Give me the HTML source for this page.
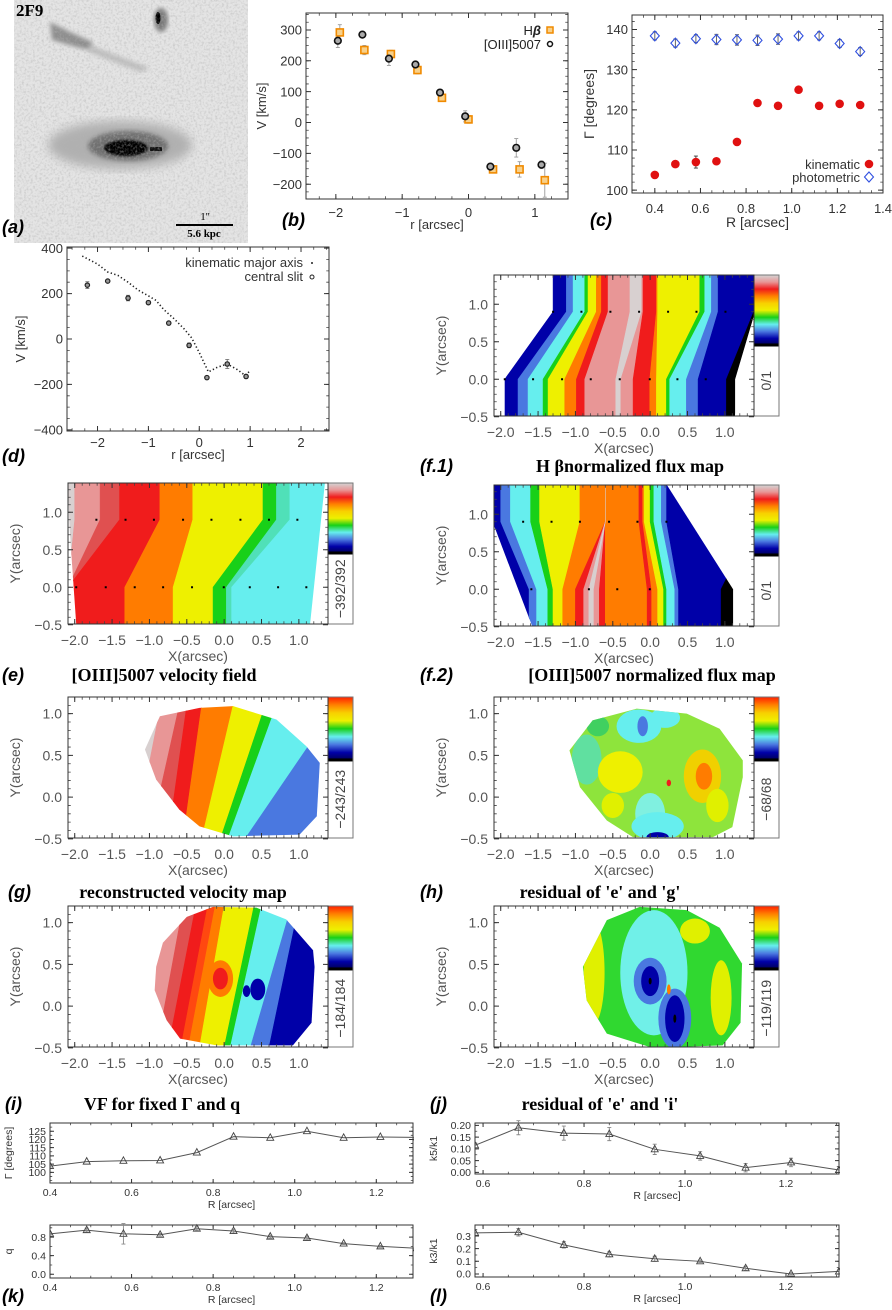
<!DOCTYPE html>
<html><head><meta charset="utf-8"><style>
html,body{margin:0;padding:0;background:#fff;}
svg{display:block;font-family:"Liberation Sans",sans-serif;}
.ttl{font-family:"Liberation Serif",serif;font-weight:bold;font-size:18px;fill:#000;}
.pl{font-family:"Liberation Sans",sans-serif;font-weight:bold;font-style:italic;font-size:18px;fill:#000;}
</style></head><body>
<svg id="fig" width="892" height="1310" viewBox="0 0 892 1310" xmlns="http://www.w3.org/2000/svg">
<defs>
<filter id="noise" x="0" y="0" width="1" height="1"><feTurbulence type="fractalNoise" baseFrequency="0.45" numOctaves="2" seed="4"/><feColorMatrix type="matrix" values="0 0 0 0 0.45  0 0 0 0 0.45  0 0 0 0 0.45  2.2 0 0 0 -0.95"/></filter>
<filter id="blur4"><feGaussianBlur stdDeviation="5"/></filter>
<filter id="blur2"><feGaussianBlur stdDeviation="2"/></filter>
<filter id="blur1"><feGaussianBlur stdDeviation="1"/></filter>
</defs>
<g>
<rect x="14" y="0" width="234" height="243" fill="#e4e4e4"/>
<ellipse cx="120" cy="145" rx="72" ry="24" fill="#b0b0b0" filter="url(#blur4)"/>
<ellipse cx="128" cy="146" rx="40" ry="15" fill="#707070" filter="url(#blur2)"/>
<ellipse cx="126" cy="148" rx="22" ry="8" fill="#000" filter="url(#blur1)"/>
<rect x="150" y="147" width="12" height="4" fill="#111"/>
<path d="M50 22 L70 32 L92 42 L92 50 L80 48 L52 40 Z" fill="#8e8e8e" filter="url(#blur2)"/>
<path d="M90 45 L150 68 L140 72 L88 52 Z" fill="#c0c0c0" filter="url(#blur2)"/>
<ellipse cx="161" cy="20" rx="7" ry="12" fill="#7a7a7a" filter="url(#blur2)"/>
<ellipse cx="158" cy="18" rx="2.5" ry="6" fill="#000"/>
<rect x="14" y="0" width="234" height="243" filter="url(#noise)" opacity="0.55"/>
<text x="16" y="16" style="font-family:'Liberation Serif',serif;font-weight:bold;font-size:17px">2F9</text>
<line x1="176" y1="225" x2="233" y2="225" stroke="#000" stroke-width="2"/>
<text x="205" y="220" text-anchor="middle" style="font-family:'Liberation Serif',serif;font-size:11px">1''</text>
<text x="204" y="237" text-anchor="middle" style="font-family:'Liberation Serif',serif;font-weight:bold;font-size:11px">5.6 kpc</text>
</g>
<text class="pl" x="2" y="233">(a)</text>
<text class="pl" x="282" y="226">(b)</text>
<text class="pl" x="590" y="226">(c)</text>
<text class="pl" x="2" y="462">(d)</text>
<text class="pl" x="420" y="472">(f.1)</text>
<text class="ttl" x="630" y="472" text-anchor="middle">H βnormalized flux map</text>
<text class="pl" x="2" y="681">(e)</text>
<text class="ttl" x="164" y="681" text-anchor="middle">[OIII]5007 velocity field</text>
<text class="pl" x="420" y="681">(f.2)</text>
<text class="ttl" x="652" y="681" text-anchor="middle">[OIII]5007 normalized flux map</text>
<text class="pl" x="8" y="898">(g)</text>
<text class="ttl" x="183" y="898" text-anchor="middle">reconstructed velocity map</text>
<text class="pl" x="420" y="898">(h)</text>
<text class="ttl" x="600" y="898" text-anchor="middle">residual of 'e' and 'g'</text>
<text class="pl" x="5" y="1110">(i)</text>
<text class="ttl" x="162" y="1110" text-anchor="middle">VF for fixed Γ and q</text>
<text class="pl" x="430" y="1110">(j)</text>
<text class="ttl" x="600" y="1110" text-anchor="middle">residual of 'e' and 'i'</text>
<text class="pl" x="2" y="1302">(k)</text>
<text class="pl" x="430" y="1302">(l)</text>
</svg>
<script>
// ---------- data ----------
const bR=[-1.97,-1.6,-1.2,-0.8,-0.43,-0.05,0.33,0.72,1.1];
const bOiii=[265,285,207,188,97,20,-143,-82,-137];
const bOiiiErr=[22,8,22,10,10,18,10,30,12];
const bHbR=[-1.94,-1.57,-1.17,-0.77,-0.4,0,0.37,0.77,1.15];
const bHb=[292,235,222,170,80,10,-152,-152,-187];
const bHbErr=[25,15,12,12,8,12,5,25,55];
const bXTicks=[-2,-1,0,1];
const bYTicks=[-200,-100,0,100,200,300];
const cR=[0.40,0.49,0.58,0.67,0.76,0.85,0.94,1.03,1.12,1.21,1.30];
const cKin=[103.8,106.5,107,107.2,112,121.7,121,125,121,121.5,121.2];
const cKinErr=[0.5,0.7,1.5,0.7,0.5,0.5,0.5,0.7,0.5,0.7,0.7];
const cPhot=[138.4,136.6,137.7,137.5,137.4,137.3,137.6,138.4,138.4,136.5,134.5];
const cPhotErr=[1,1,1,1.3,1.3,1.3,1.3,1,1,1,1];
const cXTicks=[0.4,0.6,0.8,1.0,1.2,1.4];
const cYTicks=[100,110,120,130,140];
const dLineR=[-2.3,-2.0,-1.8,-1.6,-1.4,-1.2,-1.0,-0.85,-0.7,-0.5,-0.3,-0.15,0.0,0.18,0.35,0.55,0.75,0.9,1.0];
const dLineV=[365,330,295,280,250,215,190,170,130,90,45,5,-60,-145,-125,-110,-135,-160,-140];
const dSlitR=[-2.2,-1.8,-1.4,-1.0,-0.6,-0.2,0.15,0.55,0.92];
const dSlitV=[237,255,180,160,70,-28,-170,-110,-165];
const dSlitErr=[15,5,12,8,5,10,5,20,8];
const dXTicks=[-2,-1,0,1,2];
const dYTicks=[-400,-200,0,200,400];
const iGamma=[103.8,106.5,107,107.2,112,121.7,121,125,121,121.5,121.2];
const iYTicks=[100,105,110,115,120,125];
const kQ=[0.87,0.95,0.87,0.85,0.98,0.93,0.81,0.78,0.66,0.6,0.56];
const kQErr=[0.02,0.04,0.22,0.03,0.04,0.04,0.03,0.04,0.02,0.02,0.04];
const kYTicks=[0.0,0.4,0.8];
const ikXTicks=[0.4,0.6,0.8,1.0,1.2];
const jR=[0.584,0.67,0.76,0.85,0.94,1.03,1.12,1.21,1.305];
const jK5=[0.115,0.19,0.167,0.163,0.098,0.07,0.02,0.042,0.01];
const jK5Err=[0,0.03,0.03,0.028,0.022,0.018,0.018,0.018,0];
const jYTicks=[0.00,0.05,0.10,0.15,0.20];
const lK3=[0.325,0.33,0.23,0.155,0.12,0.1,0.045,0.0,0.02];
const lK3Err=[0,0.03,0.025,0.02,0.02,0.01,0.015,0.01,0];
const lYTicks=[0.0,0.1,0.2,0.3];
const jlXTicks=[0.6,0.8,1.0,1.2];
const mapXTicks=[-2.0,-1.5,-1.0,-0.5,0.0,0.5,1.0];
const mapYTicks=[-0.5,0.0,0.5,1.0];
// map bands
const f1Bot=[-1.946,-1.768,-1.634,-1.433,-1.366,-1.143,-0.987,-0.875,-0.228,-0.005,0.084,0.218,0.262,0.485,0.642,1.021,1.133];
const f1Top=[-1.299,-1.121,-1.031,-0.875,-0.831,-0.72,-0.652,-0.563,-0.095,0.084,0.10,0.664,0.731,0.82,0.91,1.387,1.40];
const f1Col=['navy','royal','cyan','green','yellow','orange','red','pink','red','orange','yellow','green','cyan','royal','navy','black'];
const f2Bot=[-2.2,-1.62,-1.52,-1.37,-1.3,-1.17,-1.0,-0.89,-0.68,-0.6,-0.04,0.02,0.1,0.18,0.22,0.33,0.38,0.95,1.2];
const f2Top=[-2.2,-2.0,-1.87,-1.6,-1.48,-0.94,-0.6,-0.6,-0.6,-0.6,-0.15,-0.1,-0.08,0.0,0.05,0.15,0.22,1.4,1.4];
const f2Col=['navy','royal','cyan','green','yellow','orange','red','pink','red','orange','red','orange','yellow','green','cyan','royal','navy','black'];
const eBot=[-2.09,-2.09,-2.09,-2.09,-1.33,-0.683,-0.148,0.03,0.1,1.39];
const eTop=[-2.09,-2.0,-1.66,-1.4,-0.86,-0.42,0.52,0.70,0.88,1.39];
const eCol=['gray','pink','coral','red','orange','yellow','green','teal','cyan'];
const gBot=[-1.2,-1.2,-1.0,-0.75,-0.55,-0.3,-0.05,0.05,0.28,1.4];
const gTop=[-1.2,-0.85,-0.6,-0.5,-0.3,0.12,0.55,0.7,1.5,1.6];
const gCol=['gray','pink','coral','red','orange','yellow','green','cyan','royal'];
const iBot=[-1.1,-1.0,-0.9,-0.75,-0.58,-0.48,-0.33,0.0,0.08,0.35,0.6,1.4];
const iTop=[-1.1,-1.0,-0.55,-0.38,-0.22,-0.12,0.0,0.4,0.5,0.9,1.0,1.4];
const iCol=['gray','pink','coral','red','orangered','orange','yellow','green','cyan','royal','navy'];
const f1DotX=[-1.946,-1.567,-1.179,-0.795,-0.407,-0.005,0.365,0.744,-1.299,-0.92,-0.532,-0.148,0.24,0.62,1.008];
const f1DotY=[0,0,0,0,0,0,0,0,0.9,0.9,0.9,0.9,0.9,0.9,0.9];
const eDotX=[-1.98,-1.585,-1.197,-0.817,-0.43,-0.005,0.343,0.722,1.1,-1.71,-1.32,-0.94,-0.55,-0.17,0.218,0.60,0.98];
const eDotY=[0,0,0,0,0,0,0,0,0,0.9,0.9,0.9,0.9,0.9,0.9,0.9,0.9];
const f2DotX=[-1.59,-0.82,-0.44,-0.005,-1.70,-1.32,-0.94,-0.55,-0.17,0.218];
const f2DotY=[0,0,0,0,0.9,0.9,0.9,0.9,0.9,0.9];
const hBlobX=[-0.85,-0.4,-0.15,-0.1,0.2,0.0,0.1,-0.5,0.7,0.72,0.1,0.25,0.9,-0.7];
const hBlobY=[0.45,0.3,0.85,0.85,0.95,-0.2,-0.35,-0.1,0.25,0.25,-0.48,0.17,-0.1,0.85];
const hBlobRX=[0.2,0.3,0.3,0.07,0.2,0.2,0.35,0.15,0.25,0.11,0.15,0.03,0.15,0.15];
const hBlobRY=[0.3,0.25,0.2,0.12,0.12,0.25,0.17,0.15,0.32,0.16,0.06,0.04,0.2,0.12];
const hBlobC=['#60e0a0','yellow','cyan','royal','cyan','#80f0e0','cyan','#e0f000','#f0d000','orange','navy','red','#e0f000','#40d060'];
const jBlobX=[-0.75,0.95,0.6,0.05,0.0,0.33,0.0,0.33,0.0,0.33,0.25];
const jBlobY=[0.4,0.1,0.9,0.4,0.3,-0.15,0.3,-0.15,0.3,-0.15,0.2];
const jBlobRX=[0.14,0.14,0.2,0.45,0.22,0.22,0.12,0.13,0.02,0.02,0.025];
const jBlobRY=[0.6,0.45,0.15,0.75,0.28,0.36,0.18,0.28,0.04,0.05,0.06];
const jBlobC=['#e0f000','#e0f000','#e0f000','#70f0e8','royal','royal','navy','navy','black','black','orange'];
const eShape=[[-2.09,1.4],[1.35,1.4],[1.15,-0.49],[-1.98,-0.49],[-2.07,0.8]];
const f1Shape=[[-1.946,-0.49],[1.133,-0.49],[1.387,0.7],[1.387,1.4],[-1.299,1.4],[-1.946,0]];
const f2Shape=[[-2.09,1.4],[0.218,1.4],[1.11,0.0],[1.11,-0.49],[-1.58,-0.49],[-2.09,0.85]];
const gShape=[[-1.06,0.57],[-0.86,0.97],[-0.33,1.07],[0.12,1.09],[0.70,0.93],[1.1,0.61],[1.28,0.41],[1.24,-0.23],[1.01,-0.45],[0.12,-0.47],[-0.33,-0.35],[-0.6,-0.15],[-0.91,0.21]];
const hShape=[[-1.08,0.56],[-0.77,0.92],[-0.18,1.06],[0.49,1.0],[0.93,0.82],[1.24,0.44],[1.24,0.24],[1.1,-0.36],[0.84,-0.48],[-0.23,-0.48],[-0.58,-0.28],[-0.94,0.12]];
const iShape=[[-0.91,0.47],[-0.82,0.76],[-0.5,1.07],[-0.15,1.19],[0.43,1.18],[0.83,1.04],[1.19,0.67],[1.21,0.47],[1.17,-0.2],[0.92,-0.47],[-0.1,-0.47],[-0.59,-0.39],[-0.77,-0.17],[-0.93,0.19]];
const jShape=[[-0.9,0.47],[-0.58,1.03],[-0.14,1.19],[0.49,1.15],[0.93,0.94],[1.23,0.51],[1.21,-0.2],[0.97,-0.47],[0.03,-0.5],[-0.58,-0.33],[-0.85,0.07]];
const iBlobX=[-0.05,-0.05,0.45,0.3];
const iBlobY=[0.33,0.33,0.2,0.18];
const iBlobRX=[0.17,0.1,0.1,0.05];
const iBlobRY=[0.22,0.13,0.13,0.07];
const iBlobC=['orange','red','navy','navy'];

// ---------- helpers ----------
const PAL={navy:'#0000a8',royal:'#4a78e0',cyan:'#66eeee',teal:'#50e0b8',green:'#18d018',yellow:'#eef000',orange:'#ff7c00',orangered:'#ff4810',red:'#f01c1c',coral:'#e05050',pink:'#e89696',gray:'#d8d0d0',black:'#000000'};
const col=c=>PAL[c]||c;
const NS='http://www.w3.org/2000/svg';
const svg=document.getElementById('fig');
function mk(tag,attrs,parent){const e=document.createElementNS(NS,tag);for(const k in attrs)e.setAttribute(k,attrs[k]);(parent||svg).appendChild(e);return e;}
function lin(d0,d1,p0,p1){return v=>p0+(v-d0)/(d1-d0)*(p1-p0);}
function fmt(v,d){return (v<0?'\u2212':'')+Math.abs(v).toFixed(d);}

function frame(name,box,xr,yr,xt,xd,yt,yd,o){
  const g=mk('g',{});
  
  
  const sx=lin(xr[0],xr[1],box.x,box.x+box.w), sy=lin(yr[0],yr[1],box.y+box.h,box.y);
  const fs=o.fs, tc=o.tc||'#333', tl=o.tl||5;
  const ax=mk('g',{},g);
  
  
  const xm=(xt[1]-xt[0])/(o.xminor||5), ym=(yt[1]-yt[0])/(o.yminor||5);
  for(let v=xt[0]-10*xm; v<=xr[1]+1e-9; v+=xm){ if(v<xr[0]-1e-9) continue; const X=sx(v);
    const t=mk('path',{d:`M${X} ${box.y+box.h}v${-tl*0.55}M${X} ${box.y}v${tl*0.55}`,stroke:'#444','stroke-width':0.8},ax);
    
    }
  for(let v=yt[0]-10*ym; v<=yr[1]+1e-9; v+=ym){ if(v<yr[0]-1e-9) continue; const Y=sy(v);
    const t=mk('path',{d:`M${box.x} ${Y}h${tl*0.55}M${box.x+box.w} ${Y}h${-tl*0.55}`,stroke:'#444','stroke-width':0.8},ax);
    
    }
  xt.forEach(v=>{const X=sx(v);
    const t=mk('path',{d:`M${X} ${box.y+box.h}v${-tl}M${X} ${box.y}v${tl}`,stroke:'#333','stroke-width':1},ax);
    
    
    const l=mk('text',{x:X,y:box.y+box.h+(o.xlo||fs+4),'text-anchor':'middle','font-size':fs,fill:tc},ax);
    l.textContent=fmt(v,xd);
    
    });
  yt.forEach(v=>{const Y=sy(v);
    const t=mk('path',{d:`M${box.x} ${Y}h${tl}M${box.x+box.w} ${Y}h${-tl}`,stroke:'#333','stroke-width':1},ax);
    
    
    const l=mk('text',{x:box.x-(o.ylo||4),y:Y+fs*0.36,'text-anchor':'end','font-size':fs,fill:tc},ax);
    l.textContent=fmt(v,yd);
    
    });
  const r=mk('rect',{x:box.x,y:box.y,width:box.w,height:box.h,fill:'none',stroke:'#333','stroke-width':1},ax);
  
  
  if(o.xlab){const t=mk('text',{x:box.x+box.w/2,y:o.xlaby,'text-anchor':'middle','font-size':o.lfs||fs,fill:tc},g);t.textContent=o.xlab;
    
    }
  if(o.ylab){const cy=box.y+box.h/2;const t=mk('text',{x:o.ylabx,y:cy,'text-anchor':'middle','font-size':o.lfs||fs,fill:tc,transform:`rotate(-90 ${o.ylabx} ${cy})`},g);t.textContent=o.ylab;
    
    }
  return {g,sx,sy};
}
function errbar(g,X,Y1,Y2,c){const e=mk('path',{d:`M${X} ${Y1}V${Y2}M${X-2} ${Y1}h4M${X-2} ${Y2}h4`,stroke:c||'#999','stroke-width':0.9},g);
  
  }

// ---------- panel b ----------
(function(){
  const F=frame('panel-b',{x:306,y:13,w:262,h:186},[-2.45,1.5],[-248,355],bXTicks,0,bYTicks,0,{fs:13,xlo:18,xlab:'r [arcsec]',xlaby:229,ylab:'V [km/s]',ylabx:266,xminor:4,yminor:4});
  bHbR.forEach((r,i)=>{errbar(F.g,F.sx(r),F.sy(bHb[i]-bHbErr[i]),F.sy(bHb[i]+bHbErr[i]));});
  bR.forEach((r,i)=>{errbar(F.g,F.sx(r),F.sy(bOiii[i]-bOiiiErr[i]),F.sy(bOiii[i]+bOiiiErr[i]));});
  bHbR.forEach((r,i)=>{const m=mk('rect',{x:F.sx(r)-3.5,y:F.sy(bHb[i])-3.5,width:7,height:7,fill:'#f7d08a',stroke:'#f08a00','stroke-width':1.6},F.g);
    
    });
  bR.forEach((r,i)=>{const m=mk('circle',{cx:F.sx(r),cy:F.sy(bOiii[i]),r:3.3,fill:'#aaa',stroke:'#111','stroke-width':1.6},F.g);
    
    });
  const lg=mk('g',{},F.g);
  
  
  const t1=mk('text',{x:541,y:35,'text-anchor':'end','font-size':13,fill:'#222'},lg);t1.innerHTML='H<tspan font-weight="bold" font-style="italic">β</tspan>';
  
  
  mk('rect',{x:547,y:27,width:6,height:6,fill:'#f7d08a',stroke:'#f08a00','stroke-width':1.5},lg);
  const t2=mk('text',{x:541,y:49,'text-anchor':'end','font-size':13,fill:'#222'},lg);t2.textContent='[OIII]5007';
  
  
  mk('circle',{cx:550,cy:44,r:2.5,fill:'none',stroke:'#111','stroke-width':1.5},lg);
})();

// ---------- panel c ----------
(function(){
  const F=frame('panel-c',{x:632,y:15,w:251,h:178},[0.3,1.4],[99.3,143.6],cXTicks,1,cYTicks,0,{fs:13,xlo:20,xlab:'R [arcsec]',xlaby:227,ylab:'Γ [degrees]',ylabx:594,lfs:14,xminor:4,yminor:5});
  cR.forEach((r,i)=>{errbar(F.g,F.sx(r),F.sy(cPhot[i]-cPhotErr[i]),F.sy(cPhot[i]+cPhotErr[i]),'#555');
    errbar(F.g,F.sx(r),F.sy(cKin[i]-cKinErr[i]),F.sy(cKin[i]+cKinErr[i]),'#333');});
  cR.forEach((r,i)=>{const X=F.sx(r),Y=F.sy(cPhot[i]);
    const m=mk('path',{d:`M${X} ${Y-5}L${X+4.5} ${Y}L${X} ${Y+5}L${X-4.5} ${Y}Z`,fill:'none',stroke:'#3050e0','stroke-width':1.1},F.g);
    
    
    const k=mk('circle',{cx:X,cy:F.sy(cKin[i]),r:4.3,fill:'#e01010'},F.g);
    
    });
  const lg=mk('g',{},F.g);
  
  
  const t1=mk('text',{x:860,y:169,'text-anchor':'end','font-size':13,fill:'#333'},lg);t1.textContent='kinematic';
  
  
  mk('circle',{cx:869,cy:164,r:4.3,fill:'#e01010'},lg);
  const t2=mk('text',{x:860,y:182,'text-anchor':'end','font-size':13,fill:'#333'},lg);t2.textContent='photometric';
  
  
  mk('path',{d:'M869 172l4.5 5l-4.5 5l-4.5 -5z',fill:'none',stroke:'#3050e0','stroke-width':1.1},lg);
})();

// ---------- panel d ----------
(function(){
  const F=frame('panel-d',{x:67,y:247,w:262,h:184},[-2.6,2.55],[-405,405],dXTicks,0,dYTicks,0,{fs:13,xlo:16,xlab:'r [arcsec]',xlaby:459,ylab:'V [km/s]',ylabx:25,xminor:4,yminor:4});
  const pl=mk('polyline',{points:dLineR.map((r,i)=>F.sx(r)+','+F.sy(dLineV[i])).join(' '),fill:'none',stroke:'#222','stroke-width':1.6,'stroke-dasharray':'1.3 2.4'},F.g);
  
  
  dSlitR.forEach((r,i)=>{errbar(F.g,F.sx(r),F.sy(dSlitV[i]-dSlitErr[i]),F.sy(dSlitV[i]+dSlitErr[i]),'#777');
    const m=mk('circle',{cx:F.sx(r),cy:F.sy(dSlitV[i]),r:2.2,fill:'#999',stroke:'#222','stroke-width':1.2},F.g);
    
    });
  const t1=mk('text',{x:303,y:267,'text-anchor':'end','font-size':13,fill:'#333'},F.g);t1.textContent='kinematic major axis';
  
  
  mk('circle',{cx:312,cy:263,r:1,fill:'#222'},F.g);
  const t2=mk('text',{x:303,y:281,'text-anchor':'end','font-size':13,fill:'#333'},F.g);t2.textContent='central slit';
  
  
  mk('circle',{cx:312,cy:277,r:2,fill:'none',stroke:'#222','stroke-width':1},F.g);
})();

// ---------- maps ----------
let clipN=0;
function mapPanel(name,x0,y0,yr,cbFrac,cbLabel,cbTopRed,draw){
  const box={x:x0,y:y0,w:260,h:141};
  const xr=[-2.09,1.39];
  const sx=lin(xr[0],xr[1],box.x,box.x+box.w), sy=lin(yr[0],yr[1],box.y+box.h,box.y);
  const g=mk('g',{});
  
  
  const id='clip'+(clipN++);
  const cp=mk('clipPath',{id:id},g);
  mk('rect',{x:box.x,y:box.y,width:box.w,height:box.h},cp);
  const inner=mk('g',{'clip-path':`url(#${id})`},g);
  
  
  draw(inner,sx,sy,yr);
  frame(name+'-axes',box,xr,yr,mapXTicks,1,mapYTicks.filter(v=>v<=yr[1]),1,{fs:14,tc:'#555',xlo:21,ylo:6,xlab:'X(arcsec)',xlaby:box.y+box.h+37,ylab:'Y(arcsec)',ylabx:box.x-48,tl:5,xminor:5,yminor:5});
  const cb=mk('g',{},g);
  
  
  const gid='grad'+name;
  const lg=mk('linearGradient',{id:gid,x1:0,y1:0,x2:0,y2:1},cb);
  const stops=cbTopRed?['#ff2000','#ff8000','#f8d000','#eef000','#18d018','#66eeee','#4a78e0','#0000a8','#000050']:['#d4d4d4','#e89696','#f01c1c','#ff8000','#f8d000','#eef000','#18d018','#66eeee','#4a78e0','#0000a8','#000050'];
  stops.forEach((c,i)=>mk('stop',{offset:i/(stops.length-1),'stop-color':c},lg));
  const cx=box.x+box.w, ch=box.h*cbFrac;
  mk('rect',{x:cx,y:box.y,width:25,height:ch,fill:`url(#${gid})`},cb);
  mk('rect',{x:cx,y:box.y+ch-2,width:25,height:3,fill:'#000'},cb);
  mk('rect',{x:cx,y:box.y,width:25,height:box.h,fill:'none',stroke:'#777','stroke-width':1},cb);
  const ly=box.y+ch+(box.h-ch)/2, lx=cx+17;
  const t=mk('text',{x:lx,y:ly,'text-anchor':'middle','font-size':14,fill:'#444',transform:`rotate(-90 ${lx} ${ly})`},cb);
  t.textContent=cbLabel;
  
  
  return g;
}
function shapeClip(g,sx,sy,shape){const id='clip'+(clipN++);const cp=mk('clipPath',{id:id},g);
  mk('polygon',{points:shape.map(p=>sx(p[0])+','+sy(p[1])).join(' ')},cp);
  const s=mk('g',{'clip-path':`url(#${id})`},g);return s;}
function bands(g,sx,sy,bot,top,cols,ymin,ymax,yb,yt){
  cols.forEach((c,i)=>{const pts=[[bot[i],ymin],[bot[i+1],ymin],[bot[i+1],yb],[top[i+1],yt],[top[i+1],ymax],[top[i],ymax],[top[i],yt],[bot[i],yb]];
    const p=mk('polygon',{points:pts.map(q=>sx(q[0])+','+sy(q[1])).join(' '),fill:col(c),stroke:col(c),'stroke-width':0.6},g);
    
    });
}
function blobs(g,sx,sy,X,Y,RX,RY,C){
  X.forEach((x,i)=>{const e=mk('ellipse',{cx:sx(x),cy:sy(Y[i]),rx:sx(RX[i])-sx(0),ry:sy(0)-sy(RY[i]),fill:col(C[i])},g);
    
    });
}
function dots(g,sx,sy,X,Y){X.forEach((x,i)=>{const d=mk('rect',{x:sx(x)-1,y:sy(Y[i])-1,width:2,height:2,fill:'#000'},g);
  
  });}

mapPanel('map-f1',494,275,[-0.49,1.39],0.5,'0/1',false,(g,sx,sy)=>{
  const s=shapeClip(g,sx,sy,f1Shape);
  bands(s,sx,sy,f1Bot,f1Top,f1Col,-0.6,1.5,0,0.9);
  bands(s,sx,sy,[-0.46,-0.40],[-0.27,-0.12],['gray'],-0.6,1.5,0,0.9);
  dots(g,sx,sy,f1DotX,f1DotY);
});
mapPanel('map-e',68,483,[-0.49,1.39],0.5,'\u2212392/392',false,(g,sx,sy)=>{
  const s=shapeClip(g,sx,sy,eShape);
  bands(s,sx,sy,eBot,eTop,eCol,-0.6,1.5,0,0.9);
  dots(g,sx,sy,eDotX,eDotY);
});
mapPanel('map-f2',494,485,[-0.49,1.39],0.5,'0/1',false,(g,sx,sy)=>{
  const s=shapeClip(g,sx,sy,f2Shape);
  bands(s,sx,sy,f2Bot,f2Top,f2Col,-0.6,1.5,0,0.9);
  bands(s,sx,sy,[-0.82,-0.76],[-0.6,-0.6],['gray'],-0.6,1.5,0,0.9);
  dots(g,sx,sy,f2DotX,f2DotY);
});
mapPanel('map-g',68,697,[-0.49,1.2],0.45,'\u2212243/243',true,(g,sx,sy)=>{
  const s=shapeClip(g,sx,sy,gShape);
  bands(s,sx,sy,gBot,gTop,gCol,-0.5,1.1,-0.5,1.1);
});
mapPanel('map-h',494,697,[-0.49,1.2],0.45,'\u221268/68',true,(g,sx,sy)=>{
  const s=shapeClip(g,sx,sy,hShape);
  mk('rect',{x:sx(-1.2),y:sy(1.2),width:sx(1.4)-sx(-1.2),height:sy(-0.6)-sy(1.2),fill:'#8ee43c'},s);
  blobs(s,sx,sy,hBlobX,hBlobY,hBlobRX,hBlobRY,hBlobC);
});
mapPanel('map-i',68,906,[-0.49,1.2],0.45,'\u2212184/184',true,(g,sx,sy)=>{
  const s=shapeClip(g,sx,sy,iShape);
  bands(s,sx,sy,iBot,iTop,iCol,-0.5,1.2,-0.5,1.2);
  blobs(s,sx,sy,iBlobX,iBlobY,iBlobRX,iBlobRY,iBlobC);
});
mapPanel('map-j',494,906,[-0.49,1.2],0.45,'\u2212119/119',true,(g,sx,sy)=>{
  const s=shapeClip(g,sx,sy,jShape);
  mk('rect',{x:sx(-1.2),y:sy(1.3),width:sx(1.4)-sx(-1.2),height:sy(-0.6)-sy(1.3),fill:'#30d830'},s);
  blobs(s,sx,sy,jBlobX,jBlobY,jBlobRX,jBlobRY,jBlobC);
});

// ---------- small panels ----------
function small(name,box,xr,yr,xt,yt,yd,R,V,E,ylab){
  const F=frame(name,box,xr,yr,xt,1,yt,yd,{fs:10.5,xlo:13,xlab:'R [arcsec]',xlaby:box.y+box.h+25,ylab:ylab,ylabx:box.x-38,lfs:10.5,xminor:4,yminor:2,tl:4});
  const cid='clip'+(clipN++);const cp=mk('clipPath',{id:cid},F.g);mk('rect',{x:box.x,y:box.y-6,width:box.w+1,height:box.h+6},cp);
  const dg=mk('g',{'clip-path':`url(#${cid})`},F.g);
  
  
  const pl=mk('polyline',{points:R.map((r,i)=>F.sx(r)+','+F.sy(V[i])).join(' '),fill:'none',stroke:'#555','stroke-width':1},dg);
  
  
  R.forEach((r,i)=>{const X=F.sx(r),Y=F.sy(V[i]);
    if(E&&E[i]>0) errbar(dg,X,F.sy(V[i]-E[i]),F.sy(V[i]+E[i]),'#888');
    const m=mk('path',{d:`M${X} ${Y-4}L${X+3.5} ${Y+2.5}L${X-3.5} ${Y+2.5}Z`,fill:'none',stroke:'#444','stroke-width':0.9},dg);
    
    });
}
small('panel-i-gamma',{x:50,y:1123,w:363,h:60},[0.4,1.29],[93.5,130],ikXTicks,iYTicks,0,cR,iGamma,null,'Γ [degrees]');
small('panel-k-q',{x:50,y:1225,w:363,h:53},[0.4,1.29],[-0.08,1.06],ikXTicks,kYTicks,1,cR,kQ,kQErr,'q');
small('panel-j-k5',{x:475,y:1123,w:364,h:51},[0.584,1.305],[-0.007,0.21],jlXTicks,jYTicks,2,jR,jK5,jK5Err,'k5/k1');
small('panel-l-k3',{x:475,y:1225,w:364,h:52},[0.584,1.305],[-0.024,0.387],jlXTicks,lYTicks,1,jR,lK3,lK3Err,'k3/k1');
</script>
</body></html>
